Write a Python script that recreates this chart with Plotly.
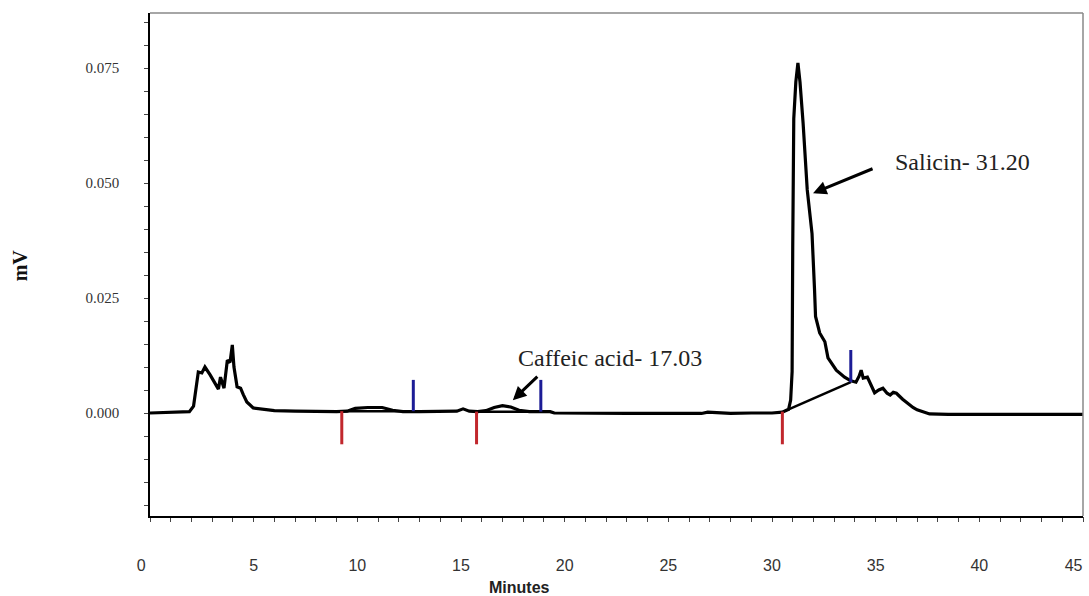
import plotly.graph_objects as go

# ---- data ----
time_min = [0.0, 0.5, 1.0, 1.5, 1.9, 2.1, 2.33, 2.5, 2.65, 2.9, 3.1, 3.3, 3.4, 3.57, 3.73, 3.86,
            3.97, 4.05, 4.2, 4.37, 4.5, 4.67, 4.98, 5.5, 6.0, 7.0, 8.0, 9.0, 9.5, 9.9, 10.5, 11.2,
            11.7, 12.2, 13.0, 14.0, 14.8, 15.1, 15.4, 15.8, 16.2, 16.6, 17.0, 17.4, 17.8, 18.3,
            19.3, 19.5, 21.0, 23.0, 25.0, 26.6, 26.9, 28.0, 29.0, 30.0, 30.5, 30.8, 30.9, 30.97,
            31.0, 31.05, 31.15, 31.25, 31.35, 31.5, 31.7, 31.93, 32.05, 32.1, 32.3, 32.55, 32.7,
            33.1, 33.5, 33.8, 34.05, 34.2, 34.3, 34.4, 34.6, 34.8, 34.95, 35.15, 35.35, 35.55,
            35.7, 35.85, 36.0, 36.3, 36.6, 36.8, 37.0, 37.3, 37.6, 38.5, 40.0, 41.5, 43.0, 45.0]
signal_mv = [0.0, 0.0001, 0.0002, 0.0002, 0.0003, 0.0015, 0.0089, 0.0087, 0.0100, 0.0083, 0.0068,
             0.0052, 0.0078, 0.0054, 0.0115, 0.0110, 0.0148, 0.0100, 0.0057, 0.0054, 0.0040,
             0.0024, 0.0011, 0.0008, 0.0005, 0.0004, 0.0003, 0.0003, 0.0004, 0.0010, 0.0012,
             0.0012, 0.0006, 0.0003, 0.0003, 0.0003, 0.0004, 0.0009, 0.0004, 0.0003, 0.0005,
             0.0012, 0.0016, 0.0013, 0.0006, 0.0003, 0.0003, 0.0000, -0.0001, -0.0001, -0.0001,
             -0.0001, 0.0002, -0.0001, 0.0000, 0.0000, 0.0002, 0.0008, 0.0028, 0.0090, 0.0360,
             0.0640, 0.0720, 0.0761, 0.0720, 0.0630, 0.0485, 0.0390, 0.0270, 0.0210, 0.0174,
             0.0155, 0.0120, 0.0093, 0.0078, 0.0070, 0.0067, 0.0080, 0.0093, 0.0076, 0.0078,
             0.0058, 0.0044, 0.0050, 0.0054, 0.0043, 0.0039, 0.0045, 0.0043, 0.0030, 0.0019,
             0.0012, 0.0007, 0.0002, -0.0002, -0.0003, -0.0003, -0.0002, -0.0003, -0.0003]

# integration baselines (start, end) pairs
base_time = [9.25, 12.7, None, 15.75, 18.85, None, 30.8, 33.8]
base_mv = [0.0004, 0.0004, None, 0.0003, 0.0003, None, 0.0008, 0.0067]

# peak start (red) and end (blue) markers
red_time = [9.25, 15.75, 30.5]
red_top = [0.0004, 0.0003, 0.0003]
red_bottom = [-0.0068, -0.0068, -0.0068]
blue_time = [12.7, 18.85, 33.8]
blue_bottom = [0.0004, 0.0003, 0.0067]
blue_top = [0.0072, 0.0072, 0.0137]

x_ticks = [0, 5, 10, 15, 20, 25, 30, 35, 40]
x_ticktext = ["0\u2007\u2007", "5", "10", "15", "20", "25", "30", "35", "40"]
x_end_tick = [45]
x_end_text = ["45"]
y_ticks = [0.0, 0.025, 0.05, 0.075]
y_ticktext = ["0.000", "0.025", "0.050", "0.075"]

peak_labels = ["Caffeic acid- 17.03", "Salicin- 31.20"]
label_pos = [(22.2, 0.0120), (39.2, 0.0546)]
arrow_tip = [(17.5, 0.0028), (31.98, 0.0478)]
arrow_tail_px = [(26, -25), (61, -25)]


def segs(xs, y0, y1):
    X, Y = [], []
    for x, a, b in zip(xs, y0, y1):
        X += [x, x, None]
        Y += [a, b, None]
    return X, Y


fig = go.Figure()
fig.add_trace(go.Scatter(x=time_min, y=signal_mv, mode="lines",
                         line=dict(color="black", width=3.2), hoverinfo="skip"))
fig.add_trace(go.Scatter(x=base_time, y=base_mv, mode="lines",
                         line=dict(color="black", width=2.5), hoverinfo="skip"))
rx, ry = segs(red_time, red_top, red_bottom)
fig.add_trace(go.Scatter(x=rx, y=ry, mode="lines", line=dict(color="#c1272d", width=3)))
bx, by = segs(blue_time, blue_bottom, blue_top)
fig.add_trace(go.Scatter(x=bx, y=by, mode="lines", line=dict(color="#1c1c96", width=3)))
# invisible carrier so the end-label axis is drawn
fig.add_trace(go.Scatter(x=[time_min[-1]], y=[signal_mv[-1]], xaxis="x2", mode="markers",
                         marker=dict(opacity=0), hoverinfo="skip"))

serif = "Liberation Serif, Times New Roman, serif"
sans = "Liberation Sans, Arial, sans-serif"

for txt, (lx, ly), (tx, ty), (ax, ay) in zip(peak_labels, label_pos, arrow_tip, arrow_tail_px):
    fig.add_annotation(x=lx, y=ly, text=txt, showarrow=False,
                       font=dict(family=serif, size=24, color="#222"))
    fig.add_annotation(x=tx, y=ty, text="", showarrow=True, ax=ax, ay=ay,
                       arrowhead=2, arrowsize=0.9, arrowwidth=3, arrowcolor="black")

fig.add_annotation(xref="paper", yref="paper", x=-0.139, y=0.499, text="<b>mV</b>",
                   textangle=-90, showarrow=False, xanchor="center", yanchor="middle",
                   font=dict(family=serif, size=20, color="#111"))
fig.add_annotation(xref="x", yref="paper", x=17.8, y=-0.143, text="<b>Minutes</b>",
                   showarrow=False, yanchor="middle", xanchor="center",
                   font=dict(family=sans, size=16, color="#222"))

# grey top/right frame
fig.add_shape(type="line", xref="paper", yref="paper", x0=0, x1=1, y0=1, y1=1,
              line=dict(color="#888", width=1.5))
fig.add_shape(type="line", xref="paper", yref="paper", x0=1, x1=1, y0=0, y1=1,
              line=dict(color="#888", width=1.5))

xfont = dict(family=sans, size=16, color="#333")
fig.update_layout(
    width=1089, height=596,
    margin=dict(l=150, r=6, t=13, b=80, autoexpand=False),
    paper_bgcolor="white", plot_bgcolor="white",
    showlegend=False,
    xaxis=dict(range=[0, 45], tickvals=x_ticks, ticktext=x_ticktext, automargin=False,
               showgrid=False, zeroline=False, showline=True, linecolor="black", linewidth=1.5,
               ticks="outside", ticklen=4, tickcolor="#444", tickwidth=1,
               minor=dict(dtick=1, ticks="outside", ticklen=4, tickcolor="#444"),
               ticklabelstandoff=30, tickfont=xfont),
    xaxis2=dict(range=[0, 45], overlaying="x", side="bottom", anchor="y",
                tickvals=x_end_tick, ticktext=x_end_text, automargin=False,
                ticklabelposition="outside left", showgrid=False, zeroline=False,
                showline=False, ticks="outside", ticklen=4, tickcolor="#444", tickwidth=1,
                ticklabelstandoff=35, tickfont=xfont),
    yaxis=dict(range=[-0.02239, 0.08696], tickvals=y_ticks, ticktext=y_ticktext,
               automargin=False,
               showgrid=False, zeroline=False, showline=True, linecolor="black", linewidth=1.5,
               ticks="outside", ticklen=4, tickcolor="#444", tickwidth=1,
               minor=dict(dtick=0.005, ticks="outside", ticklen=4, tickcolor="#444"),
               ticklabelstandoff=22,
               tickfont=dict(family=serif, size=15, color="#333")),
)

fig.write_html("out.html")
